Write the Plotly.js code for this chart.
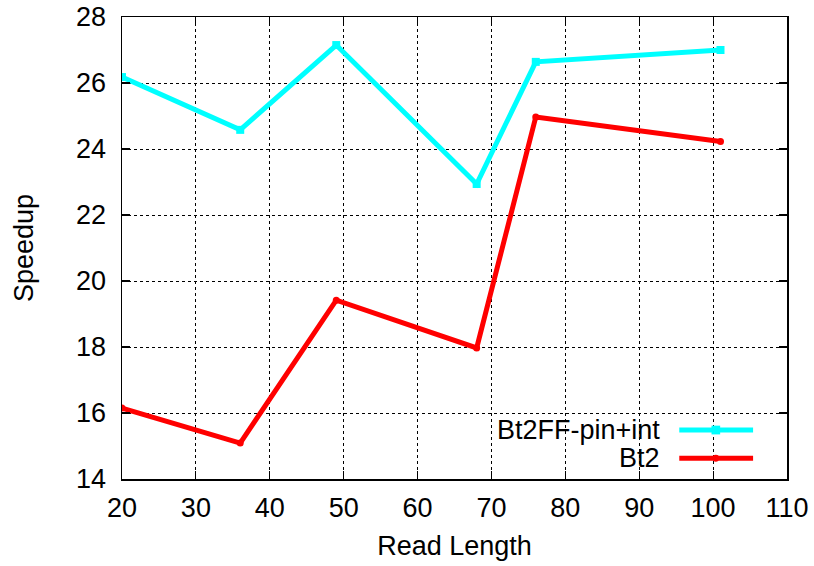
<!DOCTYPE html>
<html>
<head>
<meta charset="utf-8">
<script src="https://cdn.plot.ly/plotly-3.0.1.min.js"></script>
<style>html,body{margin:0;padding:0;background:#fff;}#chart{width:814px;height:566px;}</style>
</head>
<body>
<div id="chart"></div>
<script>
const readLength = [20, 36, 49, 68, 76, 101];
const bt2ffPinInt = [26.18, 24.58, 27.15, 22.94, 26.64, 27.0];
const bt2 = [16.15, 15.09, 19.42, 17.97, 24.97, 24.23];
const seriesNames = ['Bt2FF-pin+int', 'Bt2'];
const xTicks = [20, 30, 40, 50, 60, 70, 80, 90, 100, 110];
const yTicks = [14, 16, 18, 20, 22, 24, 26, 28];

const FONT = 'Liberation Sans, Arial, Helvetica, sans-serif';
const FS = 27;
const CYAN = '#00ffff';
const RED = '#ff0000';

const traces = [
  {x: readLength, y: bt2ffPinInt, name: seriesNames[0], mode: 'lines+markers',
   line: {color: CYAN, width: 5}, marker: {symbol: 'square', size: 8, color: CYAN}},
  {x: readLength, y: bt2, name: seriesNames[1], mode: 'lines+markers',
   line: {color: RED, width: 5}, marker: {symbol: 'circle', size: 7, color: RED}}
];

const axisCommon = {
  showline: true, linecolor: '#000', linewidth: 1.5, mirror: 'allticks',
  ticks: 'inside', ticklen: 8, tickcolor: '#000', tickwidth: 1.2,
  showgrid: true, gridcolor: '#000', gridwidth: 1, griddash: 'dot',
  zeroline: false, tickfont: {family: FONT, size: FS, color: '#000'}
};

// custom gnuplot-style legend (text right, sample left)
const lx0 = 0.838, lx1 = 0.949, lmx = 0.893, ltx = 0.812;
const ly = [0.106, 0.045];
const colors = [CYAN, RED];
const shapes = [], annotations = [];
seriesNames.forEach((n, i) => {
  shapes.push({type: 'line', xref: 'paper', yref: 'paper', x0: lx0, x1: lx1, y0: ly[i], y1: ly[i],
    line: {color: colors[i], width: 5}});
  annotations.push({xref: 'paper', yref: 'paper', x: ltx, y: ly[i], xanchor: 'right', yanchor: 'middle',
    text: n, showarrow: false, font: {family: FONT, size: FS, color: '#000'}});
});
shapes.push({type: 'rect', xref: 'paper', yref: 'paper', x0: lmx - 0.0065, x1: lmx + 0.0065,
  y0: ly[0] - 0.0095, y1: ly[0] + 0.0095, fillcolor: CYAN, line: {width: 0}});
shapes.push({type: 'circle', xref: 'paper', yref: 'paper', x0: lmx - 0.005, x1: lmx + 0.005,
  y0: ly[1] - 0.0075, y1: ly[1] + 0.0075, fillcolor: RED, line: {width: 0}});

const layout = {
  width: 814, height: 566,
  margin: {l: 122, r: 27, t: 17, b: 87},
  paper_bgcolor: '#fff', plot_bgcolor: '#fff',
  showlegend: false,
  font: {family: FONT, color: '#000'},
  xaxis: Object.assign({}, axisCommon, {
    range: [20, 110], tickvals: xTicks, ticktext: xTicks.map(String), ticklabelstandoff: 4,
    title: {text: 'Read Length', font: {family: FONT, size: FS, color: '#000'}, standoff: 14}
  }),
  yaxis: Object.assign({}, axisCommon, {
    range: [14, 28], tickvals: yTicks, ticktext: yTicks.map(String), ticklabelstandoff: 9,
    title: {text: 'Speedup', font: {family: FONT, size: FS, color: '#000'}, standoff: 34}
  }),
  shapes: shapes,
  annotations: annotations
};

Plotly.newPlot('chart', traces, layout, {displayModeBar: false, staticPlot: true});
</script>
</body>
</html>
